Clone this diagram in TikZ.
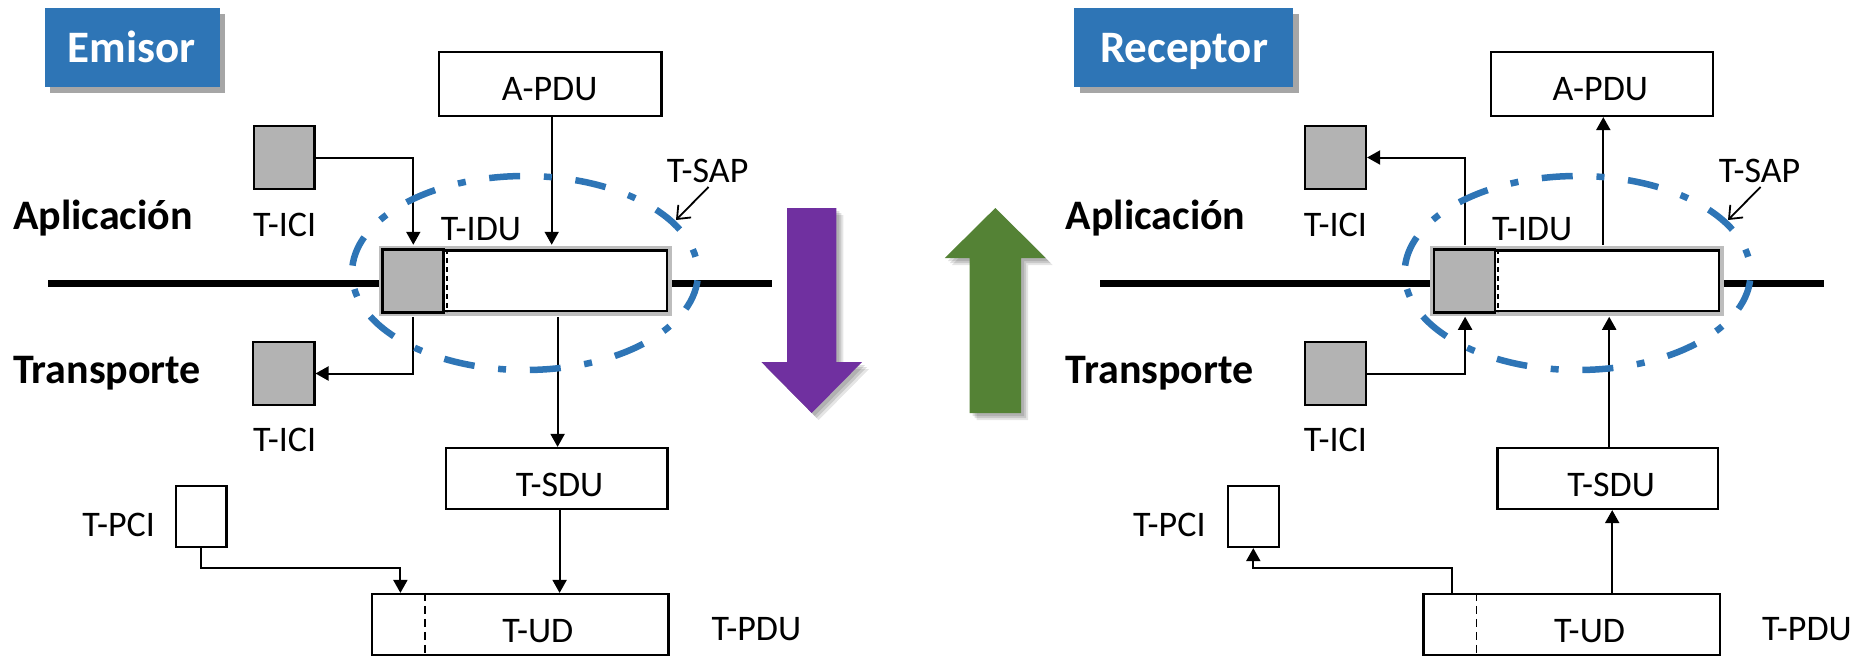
\documentclass[tikz,border=0pt]{standalone}
\usepackage{fontspec}
\setmainfont{Carlito}
\usetikzlibrary{arrows.meta,fit,calc}
\definecolor{tblue}{HTML}{2E75B6}
\definecolor{sapblue}{HTML}{2E75B6}
\definecolor{boxgray}{HTML}{B3B3B3}
\definecolor{framegray}{HTML}{BDBDBD}
\definecolor{shgray}{HTML}{A6A6A6}
\definecolor{purp}{HTML}{7030A0}
\definecolor{grn}{HTML}{548235}
\begin{document}
\begin{tikzpicture}[x=1pt,y=-1pt,
  box/.style={draw=black,line width=2.2pt,inner sep=0pt,rectangle},
  wbox/.style={box,fill=white},
  icibox/.style={box,fill=boxgray},
  idubox/.style={box,line width=2.5pt,fill=white,preaction={draw=framegray,line width=10pt}},
  lbl/.style={anchor=base,font=\fontsize{36}{40}\selectfont,inner sep=0pt},
  layer/.style={anchor=base west,font=\bfseries\fontsize{42}{48}\selectfont,inner sep=0pt},
  ttl/.style={anchor=base,text=white,font=\bfseries\fontsize{45}{50}\selectfont,inner sep=0pt},
  titlebox/.style={fill=tblue,inner sep=0pt,rectangle},
  conn/.style={line width=2pt},
  arr/.style={conn,-{Triangle[length=13pt,width=14pt]}},
  sarr/.style={line width=1.8pt,-{Straight Barb[length=11pt,width=18pt]}},
  sap/.style={draw=sapblue,line width=6.5pt,dash pattern=on 31pt off 23.75pt on 8pt off 23.75pt,dash phase=79pt},
  bar/.style={line width=7.5pt},
  celldash/.style={line width=2pt,dash pattern=on 5pt off 4pt},
  uddash/.style={line width=1.5pt,dash pattern=on 8pt off 5pt},
]
\useasboundingbox (0,0) rectangle (1860,656);

% ---------- titles ----------
\fill[shgray] (50.4,14) rectangle (225.4,93);
\node[titlebox,fit={(44.5,8)(219.5,87)}] (emisorbox) {};
\node[ttl] (emisor) at (131.5,62) {Emisor};
\fill[shgray] (1080.3,14) rectangle (1298.8,93);
\node[titlebox,fit={(1074.4,8)(1292.9,87)}] (receptorbox) {};
\node[ttl] (receptor) at (1184.1,62) {Receptor};

% ---------- big arrows ----------
\foreach \s/\o in {3/0.12,5/0.12,7/0.10}{
  \fill[black,opacity=\o,shift={(\s,\s)}] (787,208) -- (836.4,208) -- (836.4,362) -- (862.1,362) -- (811.7,413) -- (761.3,362) -- (787,362) -- cycle;
  \fill[black,opacity=\o,shift={(\s,\s)}] (995.3,208) -- (1045.7,258) -- (1021,258) -- (1021,413) -- (969.5,413) -- (969.5,258) -- (944.8,258) -- cycle;
}
\fill[purp] (787,208) -- (836.4,208) -- (836.4,362) -- (862.1,362) -- (811.7,413) -- (761.3,362) -- (787,362) -- cycle;
\fill[grn] (995.3,208) -- (1045.7,258) -- (1021,258) -- (1021,413) -- (969.5,413) -- (969.5,258) -- (944.8,258) -- cycle;

% ---------- layer lines ----------
\coordinate (barL1) at (48.4,283.5);
\coordinate (barL2) at (772.2,283.5);
\coordinate (barR1) at (1100.1,283.5);
\coordinate (barR2) at (1823.8,283.5);
\draw[bar] (barL1) -- (barL2);
\draw[bar] (barR1) -- (barR2);

% ---------- layer labels ----------
\node[layer] (aplL) at (12.9,229) {Aplicación};
\node[layer] (traL) at (12.9,383) {Transporte};
\node[layer] (aplR) at (1065.5,229) {Aplicación};
\node[layer] (traR) at (1065.5,383) {Transporte};

% ================= EMISOR =================
\node[wbox,fit={(439,52)(661.4,116)}] (apduL) {};
\node[lbl] (apduLt) at (549.7,100) {A-PDU};
\node[icibox,fit={(254.1,126)(314.4,189)}] (iciUL) {};
\node[lbl] (iciULt) at (284.7,236) {T-ICI};
\node[idubox,fit={(383.5,250.5)(667,311)}] (iduL) {};
\coordinate (cellL) at (443.5,0);
\coordinate (cellLd) at (446.5,0);
\draw[box,line width=2.5pt,fill=boxgray] (iduL.north west) rectangle (cellL |- iduL.south);
\draw[celldash] (cellLd |- iduL.north) -- (cellLd |- iduL.south);
\node[lbl] (iduLt) at (481,240) {T-IDU};
\node[icibox,fit={(253.1,342)(314.4,405)}] (iciDL) {};
\node[lbl] (iciDLt) at (284.7,451) {T-ICI};
\node[wbox,fit={(445.9,448)(667.4,509)}] (tsduL) {};
\node[lbl] (tsduLt) at (559.6,496) {T-SDU};
\node[wbox,fit={(176,486)(226.4,547)}] (tpciL) {};
\node[lbl] (tpciLt) at (118.6,536) {T-PCI};
\node[wbox,fit={(371.8,594)(668.4,655)}] (tudL) {};
\coordinate (udL) at (425.1,0);
\draw[uddash] (udL |- tudL.north) -- (udL |- tudL.south);
\node[lbl] (tudLt) at (537.8,642) {T-UD};
\node[lbl] (tpduLt) at (756.4,640) {T-PDU};
\node[lbl] (tsapLt) at (707.7,182) {T-SAP};

\coordinate (xa) at (413.3,0);
\coordinate (xb) at (551.7,0);
\coordinate (xc) at (557.6,0);
\coordinate (xd) at (559.6,0);
\coordinate (xe) at (400.4,0);
\coordinate (yb) at (0,568);
\draw[arr,shorten >=4.5pt] (iciUL.east) -| (iduL.north -| xa);
\draw[arr,shorten >=4.5pt] (apduL.south -| xb) -- (iduL.north -| xb);
\draw[arr,shorten <=4.5pt] (iduL.south -| xa) |- (iciDL.east);
\draw[arr,shorten <=4.5pt] (iduL.south -| xc) -- (tsduL.north -| xc);
\draw[arr] (tsduL.south -| xd) -- (tudL.north -| xd);
\draw[arr] (tpciL.south) -- (tpciL.south |- yb) -| (tudL.north -| xe);

\draw[sap] (525,273) ellipse [x radius=173, y radius=97];
\coordinate (sapL1) at (708.5,187);
\coordinate (sapL2) at (676,220);
\draw[sarr] (sapL1) -- (sapL2);

% ================= RECEPTOR =================
\node[wbox,fit={(1490.6,52)(1713.1,116)}] (apduR) {};
\node[lbl] (apduRt) at (1600.3,100) {A-PDU};
\node[icibox,fit={(1304.7,126)(1366,189)}] (iciUR) {};
\node[lbl] (iciURt) at (1335.4,236) {T-ICI};
\node[idubox,fit={(1435.2,250.5)(1719,311)}] (iduR) {};
\coordinate (cellR) at (1495,0);
\coordinate (cellRd) at (1498,0);
\draw[box,line width=2.5pt,fill=boxgray] (iduR.north west) rectangle (cellR |- iduR.south);
\draw[celldash] (cellRd |- iduR.north) -- (cellRd |- iduR.south);
\node[lbl] (iduRt) at (1532.1,240) {T-IDU};
\node[icibox,fit={(1304.7,342)(1366,405)}] (iciDR) {};
\node[lbl] (iciDRt) at (1335.4,451) {T-ICI};
\node[wbox,fit={(1497.5,448)(1718,509)}] (tsduR) {};
\node[lbl] (tsduRt) at (1611.2,496) {T-SDU};
\node[wbox,fit={(1227.6,486)(1279,547)}] (tpciR) {};
\node[lbl] (tpciRt) at (1169.3,536) {T-PCI};
\node[wbox,fit={(1423.4,594)(1720,655)}] (tudR) {};
\coordinate (udR) at (1476.5,0);
\draw[uddash] (udR |- tudR.north) -- (udR |- tudR.south);
\node[lbl] (tudRt) at (1589.5,642) {T-UD};
\node[lbl] (tpduRt) at (1807,640) {T-PDU};
\node[lbl] (tsapRt) at (1759.5,182) {T-SAP};

\coordinate (xg) at (1465.1,0);
\coordinate (xh) at (1603.3,0);
\coordinate (xi) at (1609.2,0);
\coordinate (xj) at (1612.2,0);
\coordinate (xk) at (1452,0);
\draw[arr,shorten <=4.5pt] (iduR.north -| xg) |- (iciUR.east);
\draw[arr,shorten <=4.5pt] (iduR.north -| xh) -- (apduR.south -| xh);
\draw[arr,shorten >=4.5pt] (iciDR.east) -| (iduR.south -| xg);
\draw[arr,shorten >=4.5pt] (tsduR.north -| xi) -- (iduR.south -| xi);
\draw[arr] (tudR.north -| xj) -- (tsduR.south -| xj);
\draw[arr] (tudR.north -| xk) -- (xk |- yb) -| (tpciR.south);

\draw[sap] (1577.6,273) ellipse [x radius=173, y radius=97];
\coordinate (sapR1) at (1760.5,187);
\coordinate (sapR2) at (1728,220);
\draw[sarr] (sapR1) -- (sapR2);
\end{tikzpicture}
\end{document}
